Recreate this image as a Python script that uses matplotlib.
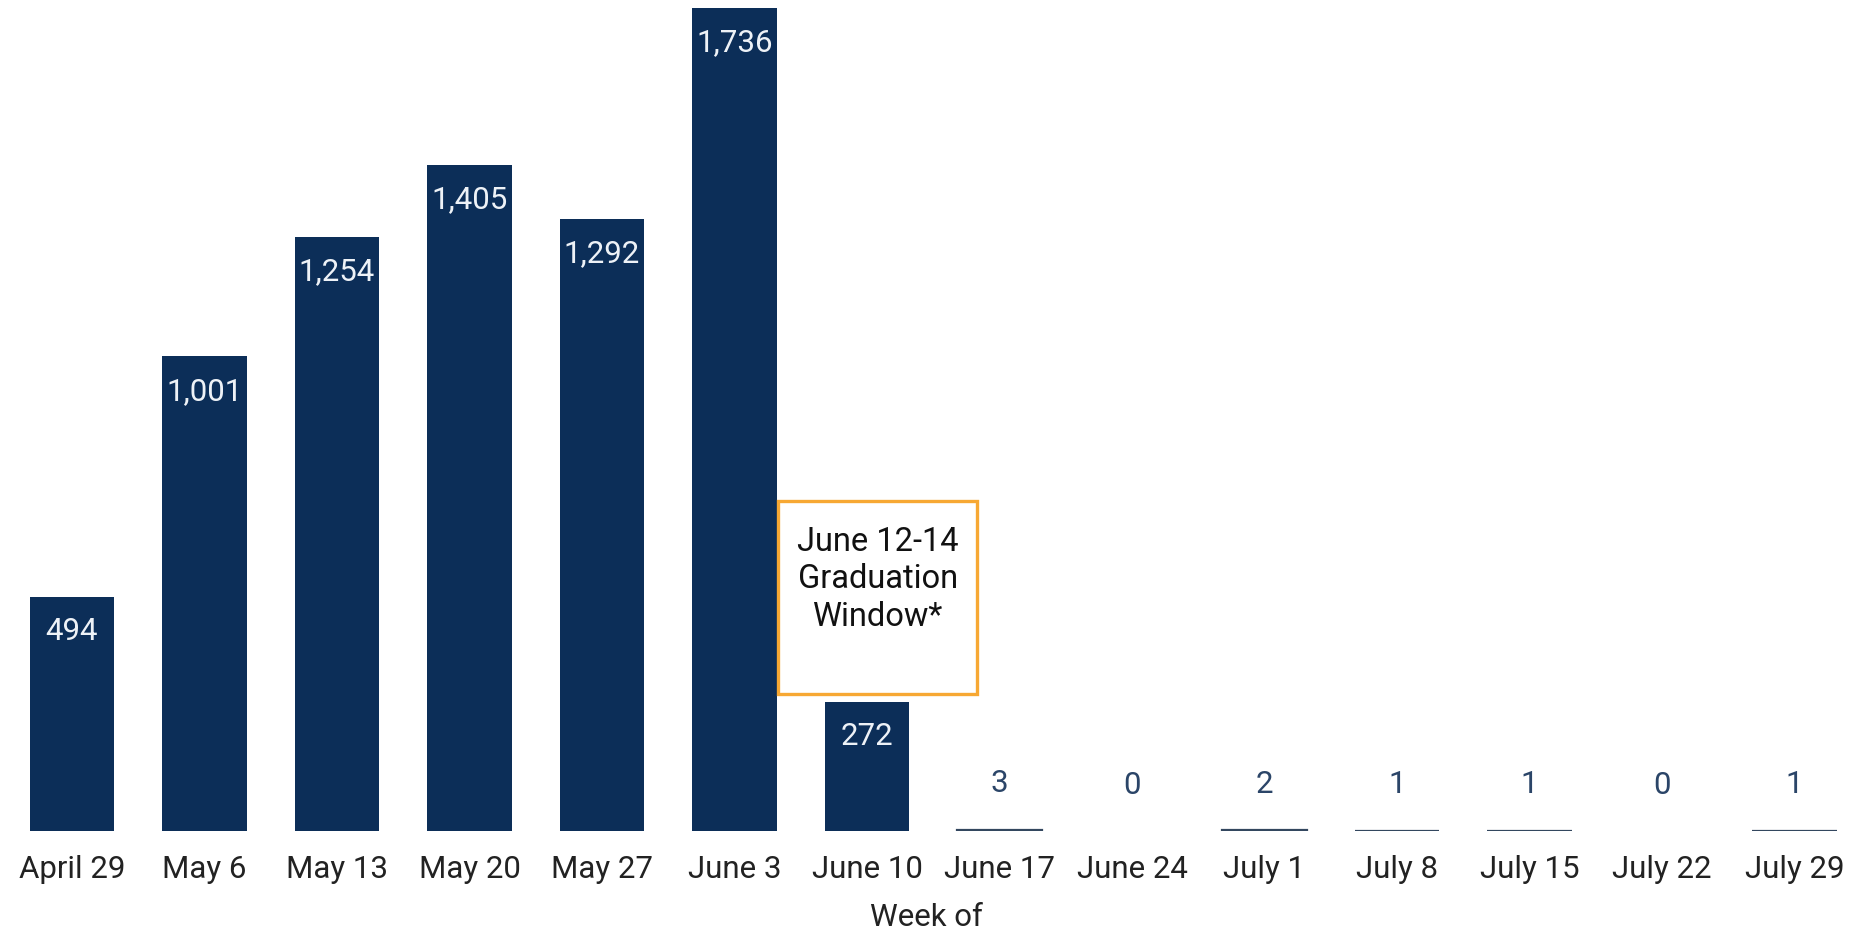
import matplotlib
matplotlib.use("Agg")
from matplotlib import pyplot as plt
from matplotlib.patches import Rectangle

plt.rcParams['font.family'] = ['Roboto', 'DejaVu Sans']

# weekly counts
weeks = ["April 29", "May 6", "May 13", "May 20", "May 27", "June 3", "June 10",
         "June 17", "June 24", "July 1", "July 8", "July 15", "July 22", "July 29"]
counts = [494, 1001, 1254, 1405, 1292, 1736, 272, 3, 0, 2, 1, 1, 0, 1]

box_text = "June 12-14\nGraduation\nWindow*"

navy = "#0c2e58"

fig = plt.figure(figsize=(18.52, 9.34), dpi=100)
ax = fig.add_axes([0, 0.1103, 1, 0.8897])

x = list(range(len(weeks)))
bar_w = 0.64
# tiny values show up as a thin line at the baseline
lws = [1.6 if 0 < c < 50 else 0 for c in counts]
bars = ax.bar(x, counts, width=bar_w, color=navy, edgecolor="#33475f", linewidth=lws)

for xi, c in zip(x, counts):
    if c >= 100:
        ax.annotate(f"{c:,}", (xi, c), xytext=(0, -25), textcoords="offset points",
                    ha="center", va="center", color="#eef2f7", fontsize=22.5)
    else:
        ax.annotate(f"{c:,}", (xi, c), xytext=(0, 33), textcoords="offset points",
                    ha="center", va="center", color="#2b4568", fontsize=22.5)

# graduation window callout, between June 3 and June 10
left = 5 + bar_w / 2 + 0.01
ax.add_patch(Rectangle((left, 289), 1.5, 407, fill=False, edgecolor="#f7a833",
                       linewidth=2.4, zorder=3))
ax.text(left + 0.75, 644, box_text, ha="center", va="top", fontsize=23.5,
        color="#111111", linespacing=1.23)

ax.set_xlim(-0.543, 13.434)
ax.set_ylim(0, 1753)
ax.set_xticks(x)
ax.set_xticklabels(weeks, fontsize=22.5, color="#222222")
ax.tick_params(axis="x", length=0, pad=17)
ax.set_yticks([])
for s in ax.spines.values():
    s.set_visible(False)
ax.set_xlabel("Week of", fontsize=22.5, color="#222222", labelpad=14)

fig.savefig("out.png", dpi=100)
